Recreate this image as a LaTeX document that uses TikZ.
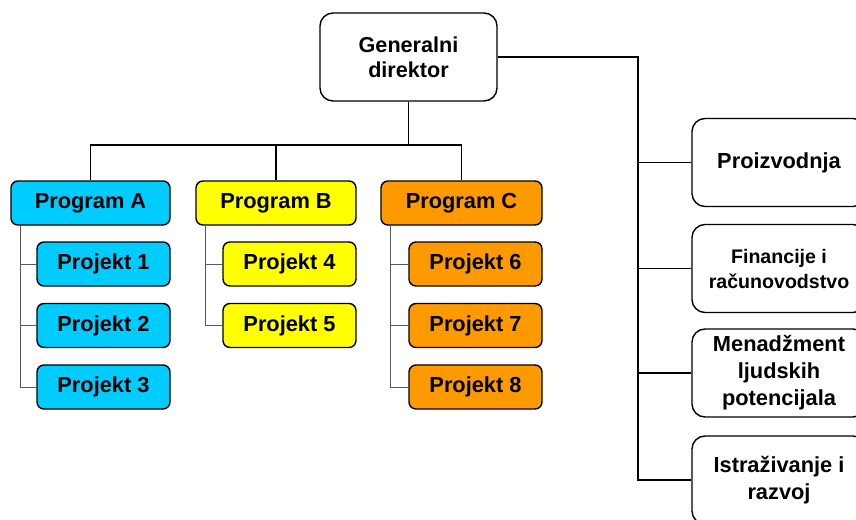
\documentclass[tikz,border=0pt]{standalone}
\usepackage{fontspec}
\setmainfont{Liberation Sans}
\usetikzlibrary{positioning}
\definecolor{progA}{HTML}{00CCFF}
\definecolor{progB}{HTML}{FFFF00}
\definecolor{progC}{HTML}{FF9900}
\begin{document}
\begin{tikzpicture}[
	x=1pt, y=-1pt,
	unit/.style={
		draw=black, line width=1.4pt, rounded corners=7pt,
		minimum height=44pt, inner sep=2pt,
		font=\bfseries\fontsize{21.8}{27}\selectfont
	},
	dept/.style={
		unit, rounded corners=13pt, minimum width=174pt,
		minimum height=88pt, align=center, fill=white
	},
	link/.style={line width=1.4pt},
	branch/.style={line width=0.8pt, draw=black!65}
]
	\useasboundingbox (0, 0) rectangle (856, 519);
	\clip (0, 0) rectangle (856, 519);
	% Top
	\node[dept, minimum width=177pt, font=\bfseries\fontsize{21.6}{25}\selectfont]
		(gd) at (408.5, 57) {Generalni\\direktor};
	% Programs
	\node[unit, fill=progA, minimum width=159pt] (pa) at (90.5, 203) {Program A};
	\node[unit, fill=progB, minimum width=160pt] (pb) at (276, 203) {Program B};
	\node[unit, fill=progC, minimum width=161pt] (pc) at (461.5, 203) {Program C};
	\coordinate (bus) at (408.5, 145);
	\draw[link] (gd) -- (bus);
	\foreach \p in {pa, pb, pc}
		\draw[link] (\p.north) |- (bus);
	% Projects
	\foreach \n/\x/\y/\c in {1/103.5/264/progA, 2/103.5/325.5/progA, 3/103.5/387/progA,
		4/289.5/264/progB, 5/289.5/325.5/progB,
		6/475.5/264/progC, 7/475.5/325.5/progC, 8/475.5/387/progC} {
		\node[unit, fill=\c, minimum width=133pt] (p\n) at (\x, \y) {Projekt \n};
	}
	\foreach \p/\last in {pa/p3, pb/p5, pc/p8}
		\draw[branch] ([xshift=10pt]\p.south west) |- (\last.west);
	\foreach \p/\q in {pa/p1, pa/p2, pb/p4, pc/p6, pc/p7}
		\draw[branch] ([xshift=10pt]\p.south west |- \q.west) -- (\q.west);
	% Staff
	\node[dept] (pr) at (779, 162.5) {Proizvodnja};
	\node[dept, font=\bfseries\fontsize{19.6}{25}\selectfont]
		(fi) at (779, 268.5) {Financije i\\računovodstvo};
	\node[dept] (mj) at (779, 373) {Menadžment\\ljudskih\\potencijala};
	\node[dept] (ir) at (779, 480) {Istraživanje i\\razvoj};
	\coordinate (trunk) at (638, 480);
	\draw[link] (gd.east) -| (trunk) -- (ir.west);
	\foreach \d in {pr, fi, mj}
		\draw[link] (trunk |- \d.west) -- (\d.west);
\end{tikzpicture}
\end{document}
